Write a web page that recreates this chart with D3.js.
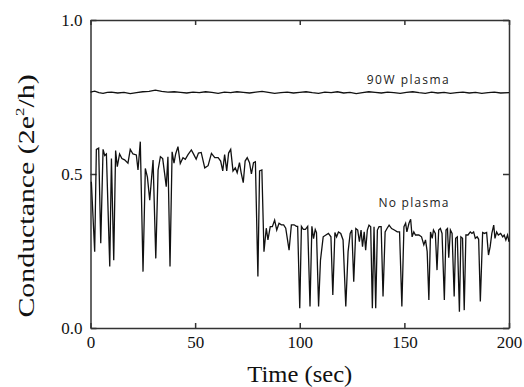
<!DOCTYPE html>
<html>
<head>
<meta charset="utf-8">
<script src="https://cdn.jsdelivr.net/npm/d3@7"></script>
<style>
  html, body { margin: 0; padding: 0; background: #fff; }
  svg { display: block; }
</style>
</head>
<body>
<svg id="chart" width="524" height="387"></svg>
<script>
// 90W plasma trace (time in sec, conductance in 2e^2/h)
const plasmaTime = [0, 2, 4, 6, 8, 10, 13, 16, 19, 22, 25, 28, 31, 34, 37, 40, 43, 46, 49, 52,
  55, 58, 61, 64, 67, 70, 73, 76, 79, 82, 85, 88, 91, 94, 97, 100, 103, 106, 109, 112,
  115, 118, 121, 124, 127, 130, 133, 136, 139, 142, 145, 148, 151, 154, 157, 160, 163, 166,
  169, 172, 175, 178, 181, 184, 187, 190, 193, 196, 200];
const plasmaValue = [0.766, 0.769, 0.764, 0.762, 0.765, 0.766, 0.763, 0.765, 0.761, 0.764, 0.767, 0.768, 0.772, 0.768, 0.766, 0.767, 0.765, 0.763, 0.766, 0.764,
  0.767, 0.765, 0.762, 0.766, 0.764, 0.767, 0.765, 0.763, 0.766, 0.768, 0.765, 0.762, 0.764, 0.766, 0.763, 0.765, 0.767, 0.764, 0.762, 0.766,
  0.764, 0.767, 0.763, 0.765, 0.761, 0.764, 0.767, 0.765, 0.763, 0.766, 0.764, 0.762, 0.765, 0.767, 0.764, 0.762, 0.766, 0.763,
  0.765, 0.762, 0.764, 0.766, 0.763, 0.765, 0.762, 0.764, 0.766, 0.763, 0.764];

// No plasma trace
const noPlasmaTime = [0.4, 2, 2.8, 3.9, 4.9, 6, 6.8, 7.6, 9.2, 10, 11.1, 12, 12.8, 13.9, 15, 16.3, 17.9, 19, 20.3, 21.9,
  22.7, 23.8, 25.1, 26.2, 27.2, 28.3, 29.9, 31.2, 32.3, 33.4, 34.5, 35.5, 36.2, 37, 38, 39, 39.9, 40.7, 41.8, 42.9,
  44.2, 45.3, 46.6, 48.2, 49.4, 50.5, 51.6, 52.9, 54.6, 56.2, 57.8, 59.4, 61, 62.2, 63.2, 64.1, 65.1, 66, 67, 68.1,
  69.2, 70.1, 71.2, 72, 73, 73.9, 74.9, 76, 76.9, 77.9, 78.8, 80, 80.8, 81.9, 82.9, 84, 84.8, 85.9, 86.9, 88,
  89, 90.1, 91.2, 92.3, 93.3, 94.9, 96, 97.3, 98.4, 99, 100, 100.8, 101.7, 102.7, 103.8, 104.9, 105.8, 106.6, 107.4, 108,
  109, 109.9, 111.2, 112.5, 113.7, 114.9, 115.8, 116.8, 117.6, 118.5, 119.6, 120.7, 122, 123.1, 124.1, 124.9, 125.8, 126.8, 127.7, 128.5,
  129.3, 130, 130.8, 131.5, 132.3, 133.1, 133.9, 134.7, 135.5, 136.3, 137.1, 137.9, 138.9, 139.8, 140.8, 141.7, 142.7, 143.9, 145.2, 146.6,
  147.7, 148.8, 149.8, 150.6, 151.2, 152.2, 153, 153.7, 154.5, 155.3, 156.9, 158.2, 159.3, 160.1, 160.9, 161.7, 162.5, 163.3, 163.9, 164.8,
  165.6, 166.4, 167.2, 168, 169.1, 169.9, 170.6, 171.2, 172, 172.8, 173.8, 174.5, 175.3, 176.3, 177, 177.8, 178.6, 179.4, 180.4, 181.5,
  182.3, 183.1, 183.9, 184.8, 185.5, 186.3, 187.4, 188.3, 189.3, 190.2, 191, 191.8, 192.7, 193.3, 194.1, 194.9, 196, 197, 197.7, 198.5,
  199.3, 200];
const noPlasmaValue = [0.475, 0.248, 0.58, 0.584, 0.275, 0.58, 0.56, 0.565, 0.2, 0.55, 0.22, 0.576, 0.524, 0.565, 0.55, 0.546, 0.535, 0.58, 0.565, 0.562,
  0.513, 0.605, 0.183, 0.518, 0.49, 0.415, 0.545, 0.226, 0.513, 0.556, 0.55, 0.497, 0.459, 0.556, 0.2, 0.572, 0.535, 0.565, 0.589, 0.534,
  0.553, 0.548, 0.563, 0.578, 0.563, 0.548, 0.568, 0.57, 0.52, 0.527, 0.567, 0.553, 0.553, 0.542, 0.51, 0.563, 0.51, 0.568, 0.58, 0.51,
  0.52, 0.504, 0.537, 0.504, 0.472, 0.542, 0.553, 0.537, 0.5, 0.537, 0.54, 0.167, 0.51, 0.513, 0.248, 0.324, 0.286, 0.329, 0.329, 0.35,
  0.318, 0.34, 0.335, 0.335, 0.324, 0.253, 0.335, 0.335, 0.33, 0.33, 0.064, 0.33, 0.32, 0.32, 0.33, 0.07, 0.33, 0.29, 0.32, 0.31,
  0.07, 0.22, 0.296, 0.302, 0.307, 0.296, 0.107, 0.31, 0.296, 0.312, 0.307, 0.286, 0.07, 0.248, 0.307, 0.318, 0.15, 0.323, 0.318, 0.28,
  0.318, 0.264, 0.312, 0.253, 0.318, 0.334, 0.329, 0.064, 0.329, 0.064, 0.318, 0.329, 0.329, 0.102, 0.312, 0.323, 0.334, 0.323, 0.318, 0.312,
  0.312, 0.07, 0.329, 0.34, 0.312, 0.34, 0.353, 0.296, 0.312, 0.302, 0.302, 0.296, 0.27, 0.286, 0.248, 0.091, 0.312, 0.291, 0.318, 0.307,
  0.188, 0.318, 0.323, 0.307, 0.091, 0.318, 0.323, 0.228, 0.318, 0.307, 0.102, 0.291, 0.296, 0.053, 0.296, 0.291, 0.058, 0.302, 0.302, 0.312,
  0.307, 0.312, 0.291, 0.296, 0.288, 0.086, 0.31, 0.307, 0.31, 0.237, 0.264, 0.307, 0.334, 0.291, 0.312, 0.302, 0.307, 0.296, 0.302, 0.286,
  0.302, 0.28];

const xTicks = [0, 50, 100, 150, 200];
const yTicks = [0, 0.5, 1.0];
const annotations = [
  { text: '90W plasma', t: 132, v: 0.792, len: 82 },
  { text: 'No plasma', t: 137.6, v: 0.394, len: 70 }
];

const svg = d3.select('#chart');
const plotLeft = 90.5, plotRight = 509, plotTop = 20, plotBottom = 328;

const x = d3.scaleLinear().domain([0, 200]).range([plotLeft, plotRight]);
const y = d3.scaleLinear().domain([0, 1]).range([plotBottom, plotTop]);

const axisColor = '#333';
const serif = '"Liberation Serif", "Times New Roman", serif';

// 坐标轴（刻度朝内）
function styleAxis(g, showText) {
  g.select('.domain').attr('stroke', axisColor).attr('stroke-width', 1.5);
  g.selectAll('.tick line').attr('stroke', axisColor).attr('stroke-width', 1.5);
  g.selectAll('.tick text')
    .attr('fill', '#111')
    .style('font-family', serif)
    .style('font-size', '17px')
    .style('display', showText ? null : 'none');
}

svg.append('g')
  .attr('transform', `translate(0,${plotBottom})`)
  .call(d3.axisBottom(x).tickValues(xTicks).tickFormat(d3.format('d'))
    .tickSizeInner(-5).tickSizeOuter(0).tickPadding(8))
  .call(g => styleAxis(g, true));

svg.append('g')
  .attr('transform', `translate(0,${plotTop})`)
  .call(d3.axisTop(x).tickValues(xTicks).tickSizeInner(-5).tickSizeOuter(0))
  .call(g => styleAxis(g, false));

svg.append('g')
  .attr('transform', `translate(${plotLeft},0)`)
  .call(d3.axisLeft(y).tickValues(yTicks).tickFormat(d3.format('.1f'))
    .tickSizeInner(-6).tickSizeOuter(0).tickPadding(8))
  .call(g => styleAxis(g, true));

svg.append('g')
  .attr('transform', `translate(${plotRight},0)`)
  .call(d3.axisRight(y).tickValues(yTicks).tickSizeInner(-6).tickSizeOuter(0))
  .call(g => styleAxis(g, false));

// 数据曲线
const line = d3.line().x(d => x(d[0])).y(d => y(d[1]));

svg.append('path')
  .datum(d3.zip(plasmaTime, plasmaValue))
  .attr('fill', 'none')
  .attr('stroke', '#111')
  .attr('stroke-width', 1.3)
  .attr('d', line);

svg.append('path')
  .datum(d3.zip(noPlasmaTime, noPlasmaValue))
  .attr('fill', 'none')
  .attr('stroke', '#111')
  .attr('stroke-width', 1.3)
  .attr('d', line);

// 标注
svg.selectAll('.note')
  .data(annotations)
  .enter()
  .append('text')
  .attr('class', 'note')
  .attr('x', d => x(d.t))
  .attr('y', d => y(d.v))
  .attr('textLength', d => d.len)
  .attr('lengthAdjust', 'spacing')
  .attr('fill', '#222')
  .style('font-family', '"Open Sans", "Noto Sans", sans-serif')
  .style('font-size', '12px')
  .text(d => d.text);

// 轴标题
svg.append('text')
  .attr('x', (plotLeft + plotRight) / 2)
  .attr('y', 382)
  .attr('text-anchor', 'middle')
  .attr('fill', '#111')
  .attr('textLength', 105)
  .attr('lengthAdjust', 'spacingAndGlyphs')
  .style('font-family', serif)
  .style('font-size', '23px')
  .text('Time (sec)');

// y 轴标题：沿文字方向拉伸
const yLabel = svg.append('text')
  .attr('transform', `translate(34,196) rotate(-90) scale(1.3,1)`)
  .attr('text-anchor', 'middle')
  .attr('fill', '#111')
  .style('font-family', serif)
  .style('font-size', '23px');
yLabel.append('tspan').text('Conductance (2e');
yLabel.append('tspan').attr('dy', -10).style('font-size', '13px').text('2');
yLabel.append('tspan').attr('dy', 10).text('/h)');
</script>
</body>
</html>
